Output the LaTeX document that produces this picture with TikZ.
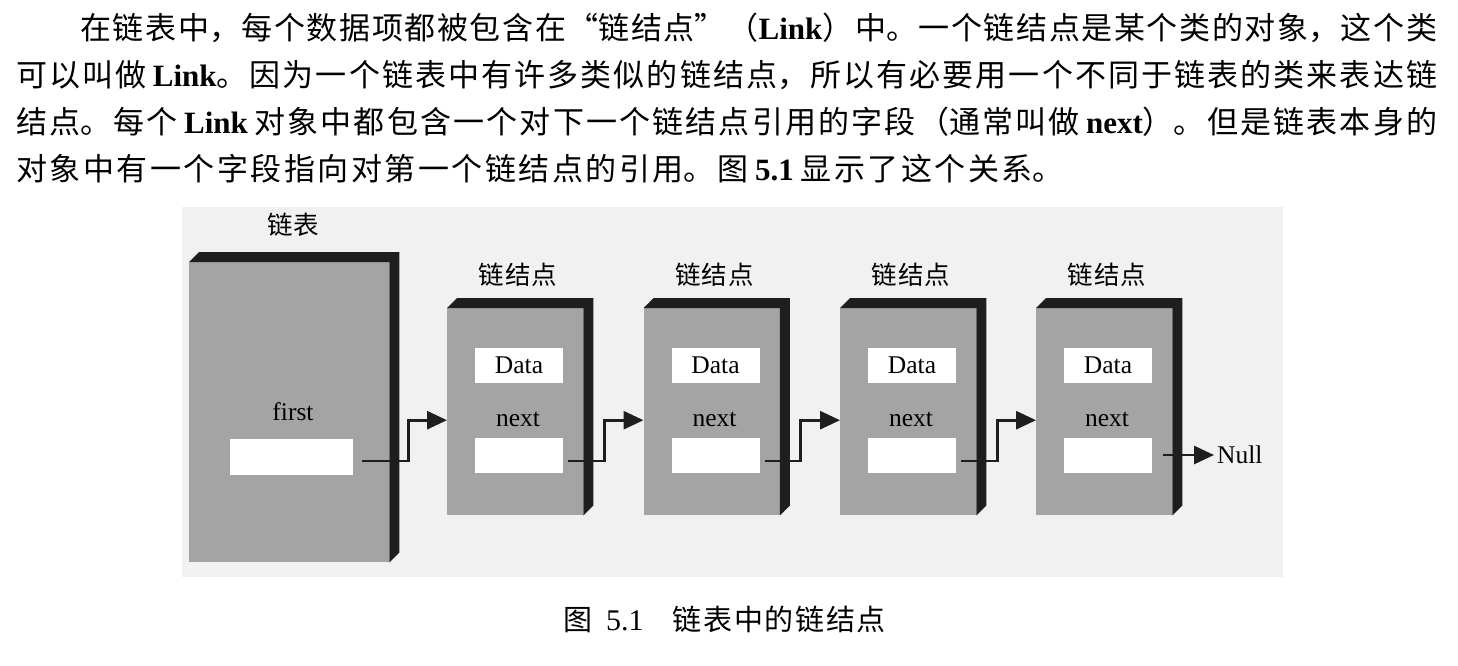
\documentclass[tikz,border=0pt]{standalone}
\usepackage{fontspec}
\setmainfont{Noto Sans CJK SC}
\newfontfamily\latfont{Liberation Serif}
\newcommand\ltn[1]{{\latfont\bfseries #1}}
\usetikzlibrary{arrows.meta}
\XeTeXlinebreaklocale "zh"
\XeTeXlinebreakskip=2.5pt plus 3pt minus 1.5pt
\definecolor{facegray}{HTML}{A4A4A4}
\definecolor{edgedark}{HTML}{1E1E1E}
\definecolor{figbg}{HTML}{F1F1F1}
\tikzset{
  listbox/.style={rectangle, fill=facegray, inner sep=0pt, anchor=north west, minimum width=200pt, minimum height=300pt},
  linkbox/.style={rectangle, fill=facegray, inner sep=0pt, anchor=north west, minimum width=136pt, minimum height=207pt},
  field/.style={rectangle, fill=white, inner sep=0pt, minimum width=88pt, minimum height=35pt, font=\latfont\fontsize{25.5}{28}\selectfont},
  lbl/.style={inner sep=0pt, font=\latfont\fontsize{25.5}{28}\selectfont},
  cjklbl/.style={inner sep=0pt, font=\fontsize{25.5}{28}\selectfont},
  ptr/.style={draw=edgedark, line width=2.8pt, -{Triangle[length=20pt,width=18pt]}},
}
\newcommand\slab[1]{%
  \fill[edgedark] (#1.north west) -- ++(10,-10) -- ([shift={(10,-10)}]#1.north east)
    -- ([shift={(10,-10)}]#1.south east) -- (#1.south east) -- (#1.north east) -- cycle;}
\begin{document}
\begin{tikzpicture}[x=1pt,y=-1pt]
\fill[white] (0,0) rectangle (1458,666);
\useasboundingbox (0,0) rectangle (1458,666);
% paragraph
\node[anchor=base west, inner sep=0pt] (para) at (16,40) {\parbox[t]{1421pt}{%
\fontsize{31}{46.7}\selectfont\tolerance=10000\hbadness=10000\parindent=0pt\parfillskip=0pt plus 1fil
\noindent\hspace*{64pt}在链表中，每个数据项都被包含在“链结点”（\ltn{Link}）中。一个链结点是某个类的对象，这个类\linebreak
可以叫做 \ltn{Link}。因为一个链表中有许多类似的链结点，所以有必要用一个不同于链表的类来表达链\linebreak
结点。每个 \ltn{Link} 对象中都包含一个对下一个链结点引用的字段（通常叫做 \ltn{next}）。但是链表本身的\linebreak
对象中有一个字段指向对第一个链结点的引用。图 \ltn{5.1} 显示了这个关系。}};
% figure background
\fill[figbg] (182,207) rectangle (1283,577);
% list object
\node[listbox] (list) at (189,262) {};
\slab{list}
\node[cjklbl] (tlist) at (293,225) {链\hspace{1pt}表};
\node[lbl] (first) at (293,412) {first};
\node[field, minimum width=123pt, minimum height=36pt] (f0) at (291.5,457) {};
% link objects
\foreach \i/\L in {1/447,2/643.5,3/840,4/1036}{
  \node[linkbox] (l\i) at (\L,308) {};
  \slab{l\i}
  \node[cjklbl] (t\i) at (\L+71,275) {链\hspace{1pt}结\hspace{1pt}点};
  \node[field] (d\i) at (\L+72,365) {Data};
  \node[lbl] (n\i) at (\L+71,419) {next};
  \node[field] (p\i) at (\L+72,455) {};
}
\node[lbl, anchor=base west, inner xsep=3pt] (null) at (1214,463) {Null};
% pointers
\draw[ptr] ([shift={(9,4)}]f0.east) -- ++(46,0) |- ([yshift=-8.5pt]l1.west);
\draw[ptr] ([shift={(5,6)}]p1.east) -- ++(36,0) |- ([yshift=-8.5pt]l2.west);
\draw[ptr] ([shift={(5,6)}]p2.east) -- ++(36,0) |- ([yshift=-8.5pt]l3.west);
\draw[ptr] ([shift={(5,6)}]p3.east) -- ++(36,0) |- ([yshift=-8.5pt]l4.west);
\draw[ptr] ([xshift=11pt]p4.east) -- (null.west |- p4.east);
% caption
\node[inner sep=0pt, anchor=base west, font=\fontsize{29}{32}\selectfont] (caption) at (563,630) {图\hspace{14pt}{\latfont\fontsize{30}{32}\selectfont 5.1}\hspace{29pt}链\hspace{1.7pt}表\hspace{1.7pt}中\hspace{1.7pt}的\hspace{1.7pt}链\hspace{1.7pt}结\hspace{1.7pt}点};
\end{tikzpicture}
\end{document}
